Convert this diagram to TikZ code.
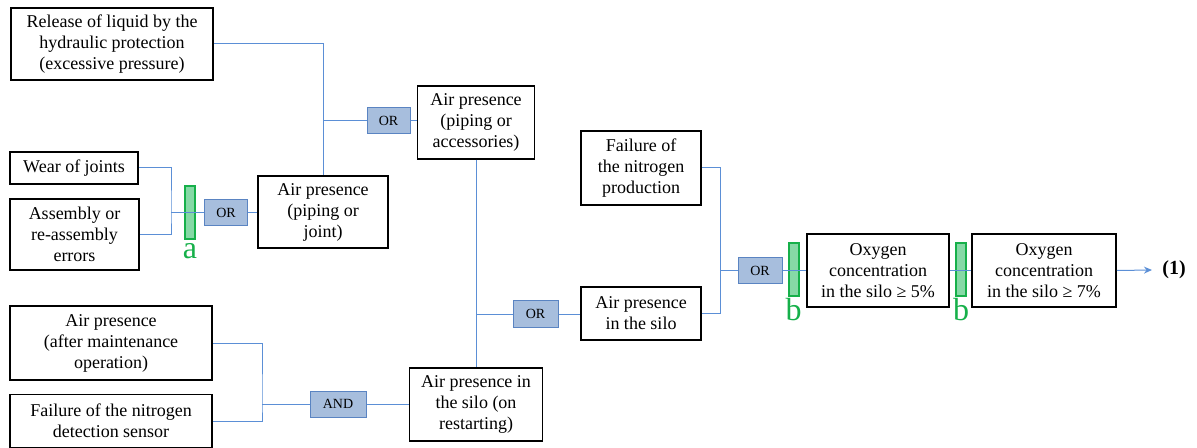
\documentclass[tikz,border=0pt]{standalone}
\usepackage{fontspec}
\setmainfont{Liberation Serif}
\usepackage{tikz}
\usetikzlibrary{calc,arrows.meta}

\definecolor{wireblue}{HTML}{5B8FD6}
\definecolor{gatefill}{HTML}{A7BEDD}
\definecolor{gateline}{HTML}{5A84C2}
\definecolor{barfill}{HTML}{86D9A6}
\definecolor{bargreen}{HTML}{16B04A}

\begin{document}
\begin{tikzpicture}
  [
    x=0.5pt, y=-0.5pt,
    event/.style={draw, line width=0.75pt, fill=white, align=center, inner sep=0pt,
      font=\fontsize{9}{10.5}\selectfont},
    gate/.style={draw=gateline, fill=gatefill, line width=0.5pt, inner sep=0pt,
      minimum height=13pt, font=\fontsize{7}{8}\selectfont},
    barrier/.style={draw=bargreen, fill=barfill, line width=1pt, inner sep=0pt,
      minimum width=5pt, minimum height=26.5pt},
    barlabel/.style={text=bargreen, inner sep=0pt, font=\fontsize{16}{16}\selectfont},
    wire/.style={draw=wireblue, line width=0.5pt}
  ]
    \path[use as bounding box] (0,0) rectangle (1197,448);

    % events
    \node[event, minimum width=101pt, minimum height=36pt] (release) at (112,44)
      {Release of liquid by the\\hydraulic protection\\(excessive pressure)};
    \node[event, minimum width=64pt, minimum height=16pt] (wear) at (74,168) {Wear of joints};
    \node[event, minimum width=64.5pt, minimum height=35.5pt] (assembly) at (74.5,234.5)
      {Assembly or\\re-assembly\\errors};
    \node[event, minimum width=65pt, minimum height=36pt] (joint) at (323,212)
      {Air presence\\(piping or\\joint)};
    \node[event, minimum width=58.5pt, minimum height=36.5pt] (access) at (476,122.5)
      {Air presence\\(piping or\\accessories)};
    \node[event, minimum width=60pt, minimum height=37pt] (nprod) at (641,168)
      {Failure of\\the nitrogen\\production};
    \node[event, minimum width=60pt, minimum height=26.5pt] (silo) at (641,313.5)
      {Air presence\\in the silo};
    \node[event, minimum width=71pt, minimum height=36.5pt] (oxfive) at (878,270.5)
      {Oxygen\\concentration\\in the silo ≥ 5\%};
    \node[event, minimum width=72pt, minimum height=36.5pt] (oxseven) at (1044,270.5)
      {Oxygen\\concentration\\in the silo ≥ 7\%};
    \node[event, minimum width=101pt, minimum height=37pt] (maint) at (111,343)
      {Air presence\\(after maintenance\\operation)};
    \node[event, minimum width=101pt, minimum height=26.5pt] (sensor) at (111,421)
      {Failure of the nitrogen\\detection sensor};
    \node[event, minimum width=66.5pt, minimum height=36.5pt] (restart) at (476,404.5)
      {Air presence in\\the silo (on\\restarting)};

    % gates
    \node[gate, minimum width=21.5pt] (orjoint) at (226,213) {OR};
    \node[gate, minimum width=21.5pt] (oraccess) at (388.5,121) {OR};
    \node[gate, minimum width=22.5pt] (orsilo) at (535.5,314) {OR};
    \node[gate, minimum width=28pt] (andrestart) at (338,404) {AND};
    \node[gate, minimum width=22pt] (oroxygen) at (760,270.5) {OR};

    % barriers
    \node[barrier] (bara) at (190,212.5) {};
    \node[barlabel] (labela) at (190,251) {a};
    \node[barrier] (barb) at (793.5,270) {};
    \node[barlabel] (labelb) at (793.5,310) {b};
    \node[barrier] (barc) at (961,270) {};
    \node[barlabel] (labelc) at (961,310) {b};

    \node[inner sep=0pt, font=\fontsize{10}{12}\bfseries] (result) at (1174,270) {(1)};

    % connections
    \coordinate (joinwear) at (171,213);
    \coordinate (joinsilo) at (720,270.5);
    \coordinate (joinmaint) at (262,404);

    \draw[wire] (release.east) -| (joint.north);
    \draw[wire] (oraccess.west) -- (oraccess.west -| joint.north);
    \draw[wire] (oraccess.east) -- (oraccess.east -| access.west);
    \draw[wire] (wear.east) -| (joinwear) |- (assembly.east);
    \draw[wire] (joinwear) -- (orjoint.west);
    \draw[wire] (orjoint.east) -- (orjoint.east -| joint.west);
    \draw[wire] (access.south) -- (restart.north);
    \draw[wire] (orsilo.west) -- (orsilo.west -| access.south);
    \draw[wire] (orsilo.east) -- (orsilo.east -| silo.west);
    \draw[wire] (nprod.east) -| (joinsilo) |- (silo.east);
    \draw[wire] (joinsilo) -- (oroxygen.west);
    \draw[wire] (oroxygen.east) -- (oxfive.west);
    \draw[wire] (oxfive.east) -- (oxseven.west);
    \draw[wire, -{Stealth[length=4pt,width=3.5pt]}] (oxseven.east) -- ($(result.west)+(-10,0)$);
    \draw[wire] (maint.east) -| (joinmaint) |- (sensor.east);
    \draw[wire] (joinmaint) -- (andrestart.west);
    \draw[wire] (andrestart.east) -- (andrestart.east -| restart.west);
  \end{tikzpicture}
\end{document}
